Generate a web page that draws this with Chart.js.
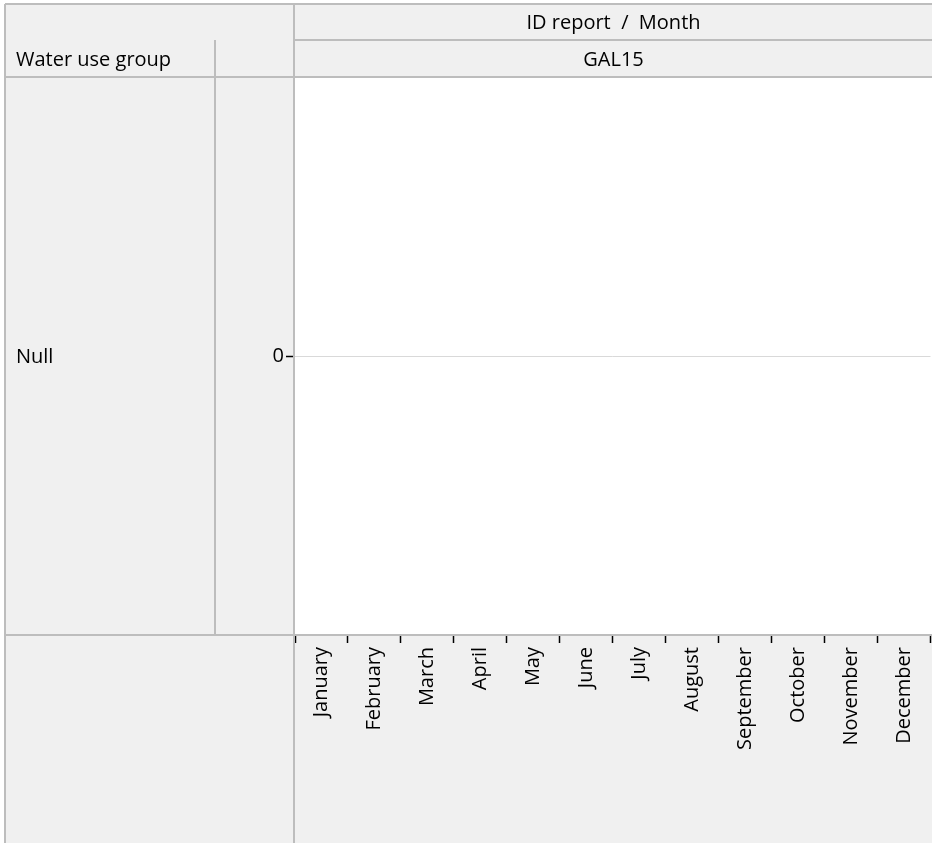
<!DOCTYPE html>
<html lang="en">
<head>
<meta charset="UTF-8" />
<title>Water use group by month</title>
<script src="https://cdn.jsdelivr.net/npm/chart.js@4.4.0/dist/chart.umd.min.js"></script>
<style>
  body { margin: 0; background: #ffffff; }
  canvas { display: block; }
</style>
</head>
<body>
<canvas id="chart" width="932" height="843"></canvas>

<script>
// data
const months = ['January', 'February', 'March', 'April', 'May', 'June',
                'July', 'August', 'September', 'October', 'November', 'December'];
const groupName = 'Null';
const panelName = 'GAL15';
// no values in the report, every month is empty
const values = [null, null, null, null, null, null, null, null, null, null, null, null];
const yTicks = [0];

const FONT = '"Open Sans", "Noto Sans", sans-serif';
const FSIZE = 20;
const GRAY = '#f0f0f0';
const LINE = '#bdbdbd';

// trellis frame round the plot (headers, row label)
const framePlugin = {
  id: 'frame',
  beforeDraw(chart) {
    const ctx = chart.ctx;
    const a = chart.chartArea;
    const W = chart.width, H = chart.height;
    ctx.save();
    ctx.fillStyle = '#ffffff';
    ctx.fillRect(0, 0, W, H);
    ctx.fillStyle = GRAY;
    ctx.fillRect(5, 4, a.left - 5, H - 4);        // left column
    ctx.fillRect(a.left, 4, W - a.left, a.top - 4); // top header
    ctx.fillRect(a.left, a.bottom, W - a.left, H - a.bottom); // x axis strip
    ctx.restore();
  },
  afterDraw(chart) {
    const ctx = chart.ctx;
    const a = chart.chartArea;
    const W = chart.width, H = chart.height;
    const hy = 40;
    ctx.save();
    ctx.strokeStyle = LINE;
    ctx.lineWidth = 2;
    ctx.beginPath();
    ctx.moveTo(5, 4); ctx.lineTo(W, 4);
    ctx.moveTo(5, 4); ctx.lineTo(5, H);
    ctx.moveTo(a.left - 1, 4); ctx.lineTo(a.left - 1, H);
    ctx.moveTo(a.left, hy); ctx.lineTo(W, hy);
    ctx.moveTo(5, a.top - 1); ctx.lineTo(W, a.top - 1);
    ctx.moveTo(5, a.bottom); ctx.lineTo(W, a.bottom);
    ctx.moveTo(215, hy); ctx.lineTo(215, a.bottom);
    ctx.stroke();

    ctx.fillStyle = '#000000';
    ctx.font = FSIZE + 'px ' + FONT;
    ctx.textBaseline = 'middle';
    ctx.textAlign = 'center';
    const cx = (a.left + W) / 2;
    ctx.fillText('ID report  /  Month', cx, (4 + hy) / 2 + 1);
    ctx.fillText(panelName, cx, (hy + a.top) / 2 + 1);
    ctx.textAlign = 'left';
    ctx.fillText('Water use group', 16, (hy + a.top) / 2 + 1);
    ctx.fillText(groupName, 16, (a.top + a.bottom) / 2 + 1);
    ctx.restore();
  }
};

const ctx = document.getElementById('chart').getContext('2d');
new Chart(ctx, {
  type: 'line',
  data: {
    labels: months,
    datasets: [{
      label: panelName,
      data: values,
      borderColor: '#1f77b4',
      pointRadius: 0
    }]
  },
  options: {
    responsive: false,
    animation: false,
    layout: { padding: { top: 78, right: 0, left: 0, bottom: 0 } },
    plugins: { legend: { display: false }, tooltip: { enabled: false } },
    scales: {
      x: {
        type: 'category',
        offset: true,
        border: { display: false },
        grid: {
          offset: true,
          drawOnChartArea: false,
          tickColor: '#000000',
          tickLength: 8,
          tickWidth: 1.5
        },
        ticks: {
          autoSkip: false,
          minRotation: 90,
          maxRotation: 90,
          padding: 4,
          color: '#000000',
          font: { family: FONT, size: FSIZE }
        },
        afterFit(scale) { scale.height = 208; }
      },
      y: {
        min: -1,
        max: 1,
        border: { display: false },
        afterBuildTicks(axis) { axis.ticks = yTicks.map(v => ({ value: v })); },
        grid: {
          color: '#d9d9d9',
          tickColor: '#000000',
          tickLength: 9,
          tickWidth: 1.5
        },
        ticks: {
          padding: 2,
          color: '#000000',
          font: { family: FONT, size: FSIZE }
        },
        afterFit(scale) { scale.width = 295; }
      }
    }
  },
  plugins: [framePlugin]
});
</script>
</body>
</html>
